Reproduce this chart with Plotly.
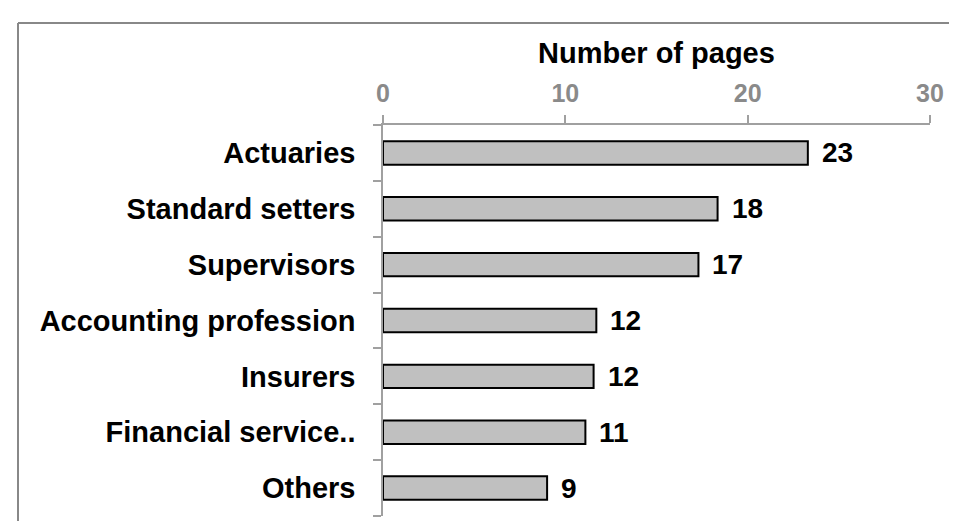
import plotly.graph_objects as go

categories = ["Actuaries", "Standard setters", "Supervisors", "Accounting profession",
              "Insurers", "Financial service..", "Others"]
values = [23.3, 18.35, 17.3, 11.7, 11.55, 11.1, 9.0]
value_labels = ["23", "18", "17", "12", "12", "11", "9"]
x_ticks = [0, 10, 20, 30]
x_title = "Number of pages"

FONT = "Liberation Sans"
W, H = 957, 521
ML, MR, MT, MB = 375, 35, 117, 13
pw = W - ML - MR
ph = H - MT - MB

fig = go.Figure()
fig.add_trace(go.Bar(
    y=categories, x=values, orientation="h",
    marker=dict(color="#c0c0c0", line=dict(color="#000000", width=2)),
    width=0.42, hoverinfo="skip",
))

for c, v, t in zip(categories, values, value_labels):
    fig.add_annotation(x=v, y=c, text="<b>%s</b>" % t, showarrow=False,
                       xanchor="left", xshift=12,
                       font=dict(family=FONT, size=28, color="#000000"))

# axis title
fig.add_annotation(xref="paper", yref="paper", x=0.5, y=1 + (MT - 45) / ph,
                   text="<b>%s</b>" % x_title, showarrow=False,
                   xanchor="center", yanchor="middle",
                   font=dict(family=FONT, size=29, color="#000000"))

fig.update_layout(
    width=W, height=H,
    margin=dict(l=ML, r=MR, t=MT, b=MB),
    paper_bgcolor="white", plot_bgcolor="white",
    showlegend=False,
    font=dict(family=FONT),
    xaxis=dict(
        side="top", range=[0, 30], tickvals=x_ticks,
        ticktext=["<b>%d</b>" % t for t in x_ticks],
        showgrid=False, zeroline=False,
        showline=True, linecolor="#a0a0a0", linewidth=1.5,
        ticks="outside", ticklen=8, tickcolor="#a0a0a0", tickwidth=1.5,
        tickfont=dict(family=FONT, size=25, color="#8a8a8a"),
        ticklabelstandoff=3,
        fixedrange=True,
    ),
    yaxis=dict(
        categoryorder="array", categoryarray=categories, autorange="reversed",
        tickvals=categories, ticktext=["<b>%s</b>" % c for c in categories],
        showgrid=False, zeroline=False,
        showline=True, linecolor="#a0a0a0", linewidth=1.5,
        ticks="outside", ticklen=8, tickcolor="#a0a0a0", tickwidth=1.5,
        tickson="boundaries",
        tickfont=dict(family=FONT, size=29, color="#000000"),
        ticklabelstandoff=20,
        fixedrange=True,
    ),
)

# chart border: top at y=15 px, left at x=10 px
fig.add_shape(type="line", xref="paper", yref="paper",
              x0=(10 - ML) / pw, x1=(W - ML) / pw,
              y0=(H - MB - 15) / ph, y1=(H - MB - 15) / ph,
              line=dict(color="#888888", width=2))
fig.add_shape(type="line", xref="paper", yref="paper",
              x0=(10 - ML) / pw, x1=(10 - ML) / pw,
              y0=(H - MB - 15) / ph, y1=-MB / ph - 0.01,
              line=dict(color="#888888", width=2))

fig.write_html("out.html")
